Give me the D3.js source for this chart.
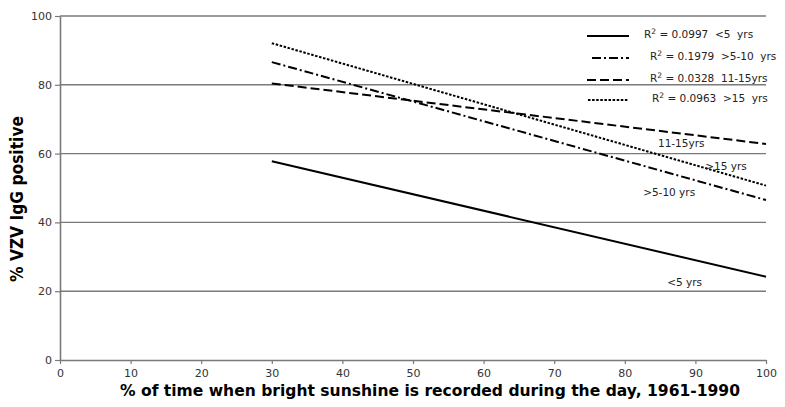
<!DOCTYPE html>
<html>
<head>
<meta charset="utf-8">
<script src="https://cdn.jsdelivr.net/npm/d3@7"></script>
<style>
  body { margin: 0; background: #fff; }
  text { font-family: "DejaVu Sans", Verdana, sans-serif; }
</style>
</head>
<body>
<script>
// chart data
const xTicks = [0, 10, 20, 30, 40, 50, 60, 70, 80, 90, 100];
const yTicks = [0, 20, 40, 60, 80, 100];
const groups = ["<5 yrs", ">5-10 yrs", "11-15yrs", ">15 yrs"];
const r2 = ["0.0997", "0.1979", "0.0328", "0.0963"];
const legendNames = ["<5  yrs", ">5-10  yrs", "11-15yrs", ">15  yrs"];
const xStart = [30, 30, 30, 30];
const xEnd = [100, 100, 100, 100];
const yStart = [57.8, 86.6, 80.4, 92.1];
const yEnd = [24.2, 46.5, 62.8, 50.7];

// styles / layout
var dashes = [null, "9,3,2,3", "9,4", "2.5,1.6"];
var labelPos = [[86.0, 21.4], [82.6, 47.6], [84.7, 61.9], [91.4, 55.2]];
var legendRows = [
  {x1: 587, tx: 644, y: 36},
  {x1: 592, tx: 650, y: 58},
  {x1: 587, tx: 650, y: 80},
  {x1: 588, tx: 652, y: 100}
];

var width = 785, height = 407;
var margin = {top: 16, right: 19, bottom: 47, left: 60};

var svg = d3.select("body").append("svg")
    .attr("width", width)
    .attr("height", height);

var x = d3.scaleLinear().domain([0, 100]).range([margin.left, width - margin.right]);
var y = d3.scaleLinear().domain([0, 100]).range([height - margin.bottom, margin.top]);

// gridlines
svg.append("g")
  .selectAll("line")
  .data(yTicks.filter(function(d) { return d > 0; }))
  .enter().append("line")
    .attr("x1", x(0)).attr("x2", x(100))
    .attr("y1", function(d) { return y(d); })
    .attr("y2", function(d) { return y(d); })
    .attr("stroke", "#7a7a7a")
    .attr("stroke-width", 1.4);

// axes
var yAxis = svg.append("g")
    .attr("transform", "translate(" + x(0) + ",0)")
    .call(d3.axisLeft(y).tickValues(yTicks).tickSize(5).tickSizeOuter(0).tickPadding(3));
var xAxis = svg.append("g")
    .attr("transform", "translate(0," + y(0) + ")")
    .call(d3.axisBottom(x).tickValues(xTicks).tickSize(4).tickSizeOuter(0).tickPadding(5));

[xAxis, yAxis].forEach(function(a) {
  a.select(".domain").attr("stroke", "#7a7a7a").attr("stroke-width", 1.6);
  a.selectAll(".tick line").attr("stroke", "#7a7a7a").attr("stroke-width", 1.2);
  a.selectAll(".tick text")
    .attr("fill", "#333")
    .style("font-size", "11px")
    .style("font-family", "'DejaVu Sans', Verdana, sans-serif");
});

// regression lines
svg.append("g")
  .selectAll("line")
  .data(groups)
  .enter().append("line")
    .attr("x1", function(d, i) { return x(xStart[i]); })
    .attr("x2", function(d, i) { return x(xEnd[i]); })
    .attr("y1", function(d, i) { return y(yStart[i]); })
    .attr("y2", function(d, i) { return y(yEnd[i]); })
    .attr("stroke", "#000")
    .attr("stroke-width", 2)
    .attr("stroke-dasharray", function(d, i) { return dashes[i]; });

// line labels
svg.append("g")
  .selectAll("text")
  .data(groups)
  .enter().append("text")
    .attr("x", function(d, i) { return x(labelPos[i][0]); })
    .attr("y", function(d, i) { return y(labelPos[i][1]); })
    .attr("fill", "#222")
    .style("font-size", "10.5px")
    .text(function(d) { return d; });

// legend
var leg = svg.append("g");
legendRows.forEach(function(r, i) {
  leg.append("line")
    .attr("x1", r.x1).attr("x2", 629)
    .attr("y1", r.y).attr("y2", r.y)
    .attr("stroke", "#000")
    .attr("stroke-width", 2)
    .attr("stroke-dasharray", dashes[i]);
  var t = leg.append("text")
    .attr("x", r.tx)
    .attr("y", r.y + 2)
    .attr("fill", "#222")
    .style("font-size", "10.5px")
    .attr("xml:space", "preserve");
  t.append("tspan").text("R");
  t.append("tspan").attr("dy", -4).style("font-size", "7.5px").text("2");
  t.append("tspan").attr("dy", 4).text(" = " + r2[i] + "  " + legendNames[i]);
});

// axis titles
svg.append("text")
    .attr("transform", "translate(23,199) rotate(-90)")
    .attr("text-anchor", "middle")
    .attr("font-weight", "bold")
    .attr("textLength", 166)
    .attr("lengthAdjust", "spacingAndGlyphs")
    .style("font-size", "17px")
    .text("% VZV IgG positive");

svg.append("text")
    .attr("x", 120)
    .attr("y", 396)
    .attr("font-weight", "bold")
    .attr("textLength", 620)
    .attr("lengthAdjust", "spacingAndGlyphs")
    .style("font-size", "15px")
    .text("% of time when bright sunshine is recorded during the day, 1961-1990");
</script>
</body>
</html>
